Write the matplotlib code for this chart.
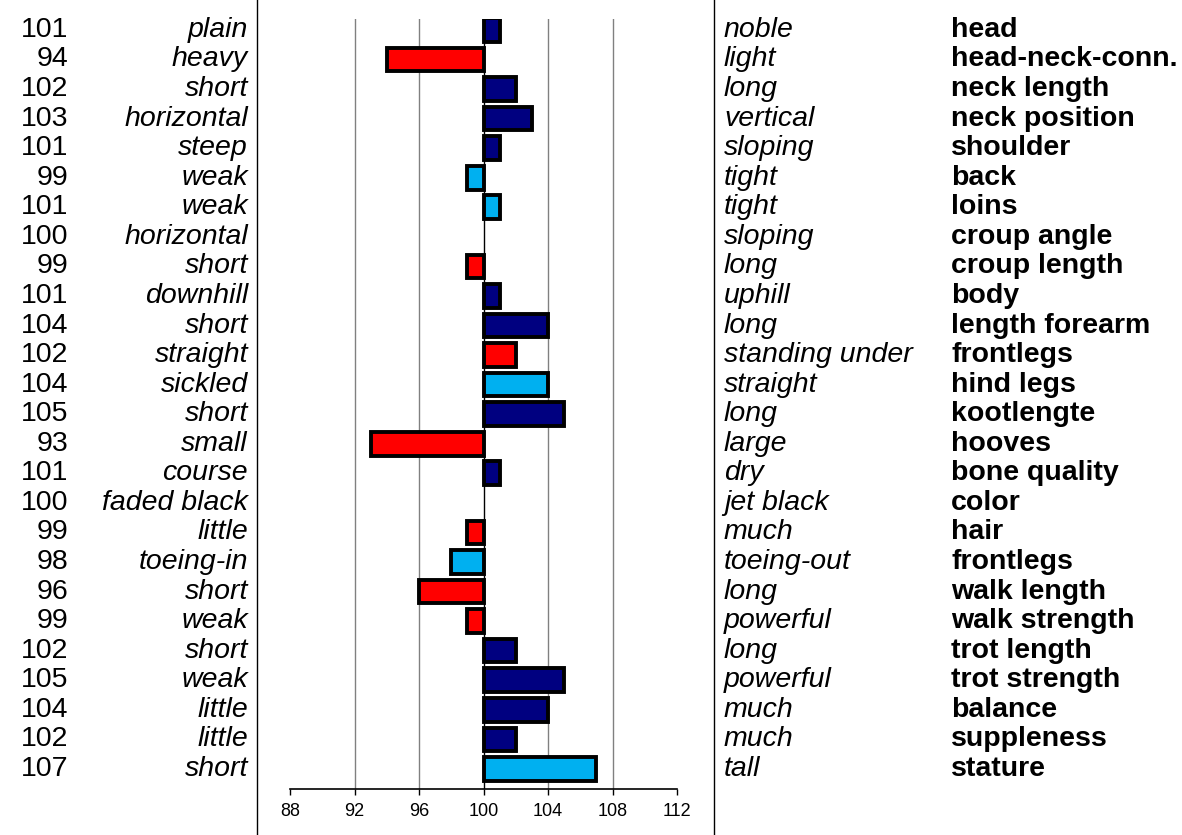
import matplotlib.pyplot as plt
import matplotlib.transforms as mtransforms
from matplotlib.lines import Line2D

plt.rcParams['font.family'] = ['Liberation Sans', 'DejaVu Sans']

# scores per trait, top to bottom
scores = [101, 94, 102, 103, 101, 99, 101, 100, 99, 101, 104, 102, 104,
          105, 93, 101, 100, 99, 98, 96, 99, 102, 105, 104, 102, 107]
low_labels = ['plain', 'heavy', 'short', 'horizontal', 'steep', 'weak', 'weak',
              'horizontal', 'short', 'downhill', 'short', 'straight', 'sickled',
              'short', 'small', 'course', 'faded black', 'little', 'toeing-in',
              'short', 'weak', 'short', 'weak', 'little', 'little', 'short']
high_labels = ['noble', 'light', 'long', 'vertical', 'sloping', 'tight', 'tight',
               'sloping', 'long', 'uphill', 'long', 'standing under', 'straight',
               'long', 'large', 'dry', 'jet black', 'much', 'toeing-out', 'long',
               'powerful', 'long', 'powerful', 'much', 'much', 'tall']
traits = ['head', 'head-neck-conn.', 'neck length', 'neck position', 'shoulder',
          'back', 'loins', 'croup angle', 'croup length', 'body', 'length forearm',
          'frontlegs', 'hind legs', 'kootlengte', 'hooves', 'bone quality', 'color',
          'hair', 'frontlegs', 'walk length', 'walk strength', 'trot length',
          'trot strength', 'balance', 'suppleness', 'stature']
# n = navy, r = red, b = light blue
groups = ['n', 'r', 'n', 'n', 'n', 'b', 'b', 'n', 'r', 'n', 'n', 'r', 'b',
          'n', 'r', 'n', 'n', 'r', 'b', 'r', 'r', 'n', 'n', 'n', 'n', 'b']
ticks = [88, 92, 96, 100, 104, 108, 112]

palette = {'n': '#000080', 'r': '#FF0000', 'b': '#00B0F0'}
W, H = 1182, 835

fig = plt.figure(figsize=(W / 100, H / 100), dpi=100)
ax = fig.add_axes([290 / W, (H - 789) / H, 387 / W, 770 / H])

rows = list(range(len(scores)))
for i, v in enumerate(scores):
    if v == 100:
        continue
    ax.barh(i, v - 100, left=100, height=0.8, color=palette[groups[i]],
            edgecolor='black', linewidth=2.8, zorder=3)

ax.set_xlim(88, 112)
ax.set_ylim(25.68, -0.37)
ax.set_xticks(ticks)
ax.set_xticklabels([str(t) for t in ticks], fontsize=13)
ax.set_yticks([])
for t in ticks:
    if t in (88, 112):
        continue
    ax.axvline(t, color='#808080' if t != 100 else 'black', linewidth=1, zorder=1)
for s in ['top', 'right', 'left']:
    ax.spines[s].set_visible(False)
ax.spines['bottom'].set_linewidth(1.2)
ax.tick_params(axis='x', direction='out', length=4, width=1, pad=6)

# text columns beside the chart
tr = mtransforms.blended_transform_factory(fig.transFigure, ax.transData)
fs = 20.5
for i in rows:
    ax.text(68 / W, i, str(scores[i]), transform=tr, ha='right', va='center',
            fontsize=fs, clip_on=False)
    ax.text(248 / W, i, low_labels[i], transform=tr, ha='right', va='center',
            fontsize=fs, style='italic', clip_on=False)
    ax.text(724 / W, i, high_labels[i], transform=tr, ha='left', va='center',
            fontsize=fs, style='italic', clip_on=False)
    ax.text(951 / W, i, traits[i], transform=tr, ha='left', va='center',
            fontsize=fs, fontweight='bold', clip_on=False)

# separator lines
for xp in (257, 714):
    fig.add_artist(Line2D([xp / W, xp / W], [0, 1], color='black', linewidth=1))

fig.savefig('out.png', dpi=100)
